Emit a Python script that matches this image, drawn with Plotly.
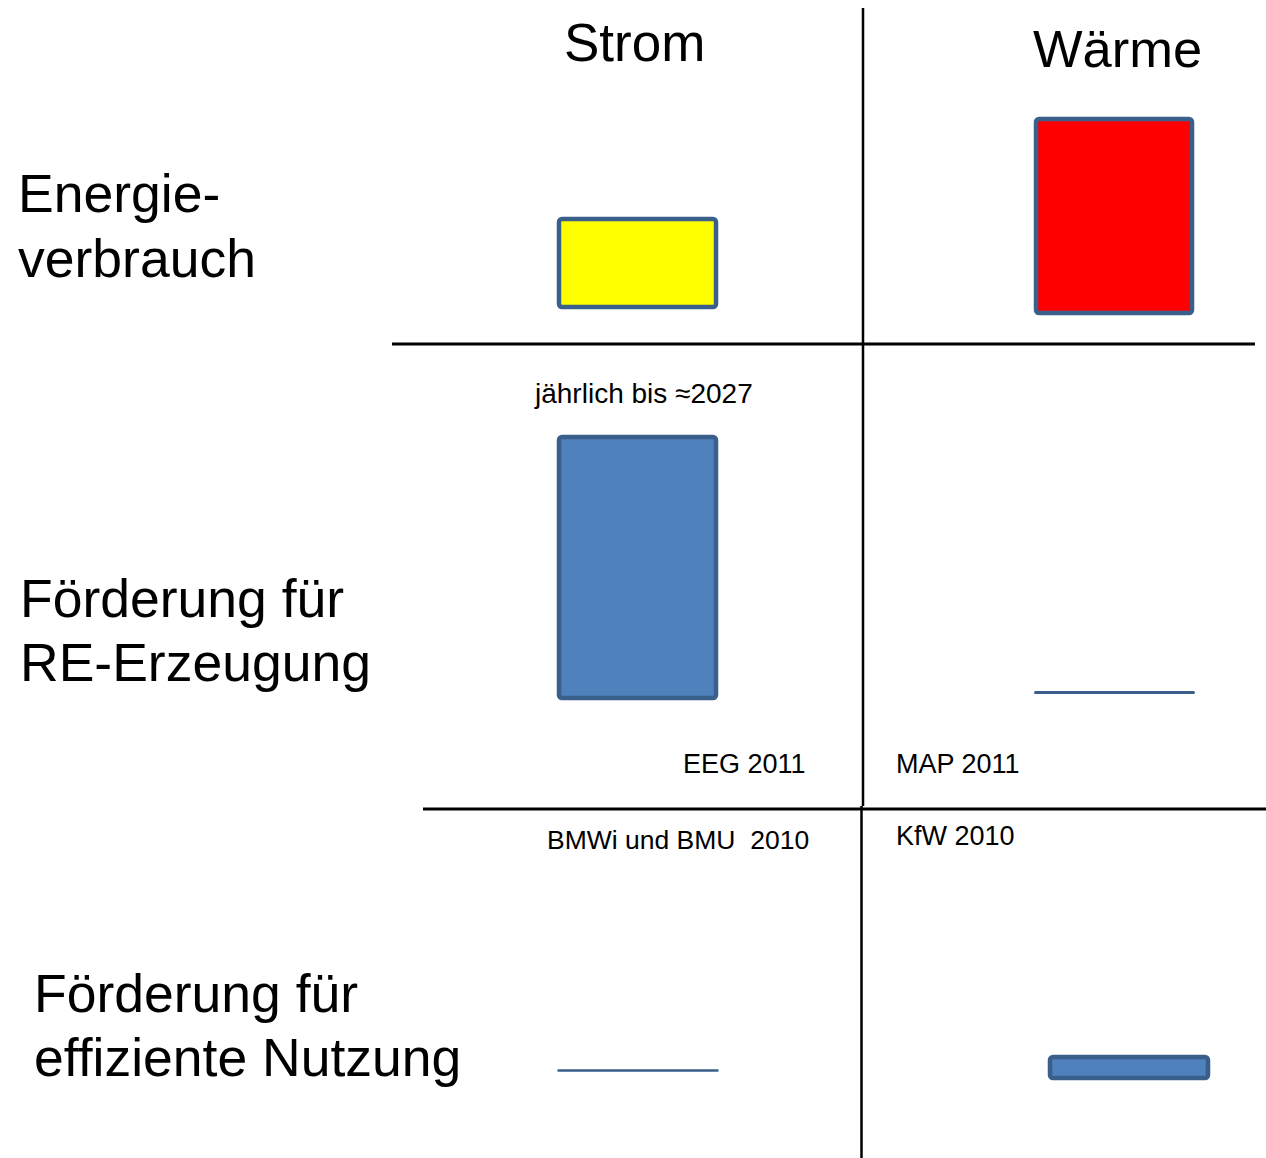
import plotly.graph_objects as go

# ---------------- data ----------------
columns = ["Strom", "Wärme"]
rows = ["Energieverbrauch", "Förderung für RE-Erzeugung", "Förderung für effiziente Nutzung"]
row_labels = [["Energie-", "verbrauch"], ["Förderung für", "RE-Erzeugung"], ["Förderung für", "effiziente Nutzung"]]
strom_values = [88, 261, 1]     # relative magnitudes
waerme_values = [194, 1, 21]
source_labels = ["jährlich bis ≈2027", "EEG 2011", "MAP 2011", "BMWi und BMU  2010", "KfW 2010"]

# ---------------- layout (pixel canvas) ----------------
W, H = 1266, 1158
def Y(py):
    return H - py

FONT = "Liberation Sans, Arial, sans-serif"
EDGE = "#3a5f8b"

# bar placement per cell: (center x, width, bottom pixel)
strom_pos = [(637.5, 157, 307), (637.5, 157, 698), (638, 160, 1071)]
waerme_pos = [(1114, 156, 313), (1114.5, 159, 693), (1129, 158, 1078)]
strom_fill = ["#ffff00", "#4f81bd", "#4f81bd"]
waerme_fill = ["#ff0000", "#4f81bd", "#4f81bd"]
strom_lw = [4.5, 4.5, 1.5]
waerme_lw = [4.5, 2, 4.5]

fig = go.Figure()
for vals, pos, fills, lws, name in [
    (strom_values, strom_pos, strom_fill, strom_lw, columns[0]),
    (waerme_values, waerme_pos, waerme_fill, waerme_lw, columns[1]),
]:
    for i, v in enumerate(vals):
        cx, w, bottom = pos[i]
        fig.add_trace(go.Bar(
            x=[cx], y=[v], base=[Y(bottom)], width=[w],
            marker=dict(color=fills[i], line=dict(color=EDGE, width=lws[i])),
            name=f"{name} – {rows[i]}", showlegend=False, hoverinfo="skip",
        ))

# grid lines
shapes = [
    dict(type="line", x0=863, x1=863, y0=Y(8), y1=Y(806), line=dict(color="black", width=2.5)),
    dict(type="line", x0=861.5, x1=861.5, y0=Y(806), y1=Y(1158), line=dict(color="black", width=2.5)),
    dict(type="line", x0=392, x1=1255, y0=Y(344), y1=Y(344), line=dict(color="black", width=3)),
    dict(type="line", x0=423, x1=1266, y0=Y(809), y1=Y(809), line=dict(color="black", width=3)),
]

annotations = []
def txt(s, x, py, size, xanchor="left", yanchor="middle", align="left"):
    annotations.append(dict(text=s, x=x, y=Y(py), xref="x", yref="y", showarrow=False,
                            xanchor=xanchor, yanchor=yanchor, align=align,
                            font=dict(family=FONT, size=size, color="black")))

# column headers
txt(columns[0], 634, 42, 53, xanchor="center")
txt(columns[1], 1117, 48, 52.5, xanchor="center")
# row labels
label_pos = [(16, 193, 258), (18, 598, 662), (32, 993, 1057)]
for (l1, l2), (x, y1, y2) in zip(row_labels, label_pos):
    txt(l1, x, y1, 53.5)
    txt(l2, x, y2, 53.5)
# source notes
txt(source_labels[0], 643, 393, 28, xanchor="center")
txt(source_labels[1], 744, 764, 27, xanchor="center")
txt(source_labels[2], 894, 764, 27)
txt(source_labels[3], 545, 840, 26.5)
txt(source_labels[4], 894, 836, 27)

fig.update_layout(
    width=W, height=H, margin=dict(l=0, r=0, t=0, b=0),
    paper_bgcolor="white", plot_bgcolor="white",
    xaxis=dict(range=[0, W], visible=False, fixedrange=True),
    yaxis=dict(range=[0, H], visible=False, fixedrange=True),
    barmode="overlay", barcornerradius=3,
    shapes=shapes, annotations=annotations, showlegend=False,
)

fig.write_html("out.html", config={"displayModeBar": False},
               post_script="document.body.style.margin='0';document.body.style.overflow='hidden';")
